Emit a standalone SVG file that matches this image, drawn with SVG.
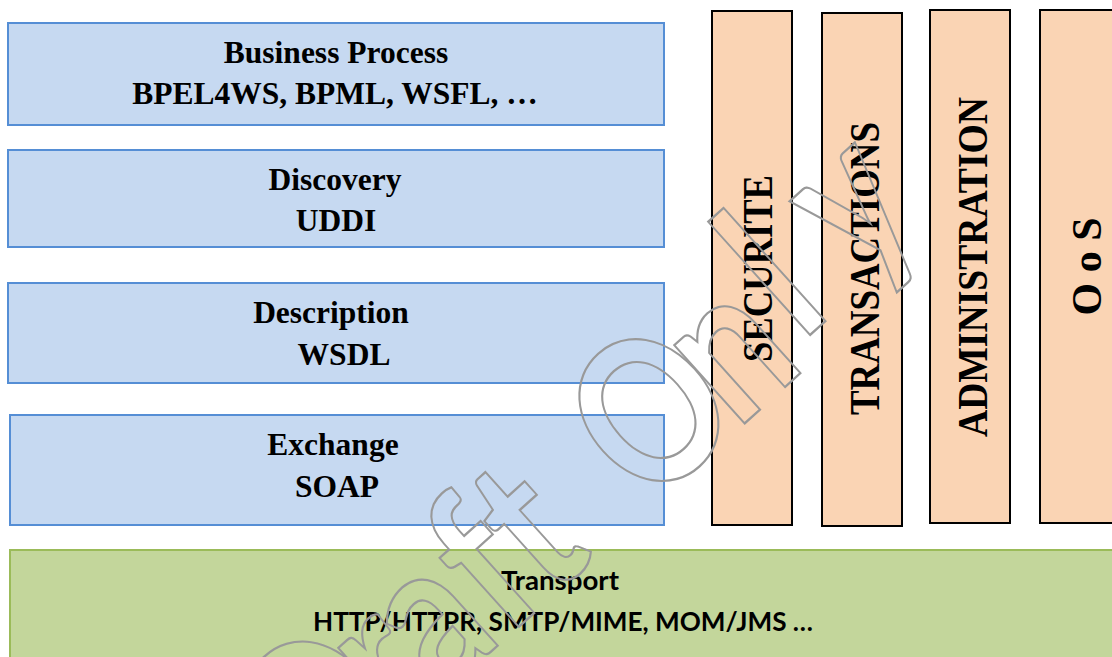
<svg xmlns="http://www.w3.org/2000/svg" width="1112" height="657" viewBox="0 0 1112 657">
  <style>
    .layer { fill: #C6D9F1; stroke: #558ED5; stroke-width: 2; }
    .side { fill: #FAD4B4; stroke: #000000; stroke-width: 2; }
    .transport { fill: #C3D69B; stroke: #9BBB59; stroke-width: 2; }
    .serif { font-family: "Liberation Serif", "Times New Roman", serif; font-weight: bold; fill: #000000; }
    .lbl { font-size: 31.5px; text-anchor: middle; }
    .vlbl { font-size: 42px; text-anchor: middle; }
    .sans { font-family: Lato, "Open Sans", "Liberation Sans", sans-serif; font-weight: bold; font-size: 27px; text-anchor: middle; fill: #000000; }
    .mark { font-family: Lato, "Open Sans", sans-serif; font-weight: bold; font-size: 205px; fill: none; stroke: #999999; stroke-width: 2.3; text-anchor: middle; }
  </style>

  <rect width="1112" height="657" fill="#ffffff"/>

  <!-- protocol stack layers -->
  <g id="business-process">
    <rect class="layer" x="8" y="23" width="656" height="102"/>
    <text class="serif lbl" x="336" y="63">Business Process</text>
    <text class="serif lbl" x="335" y="104">BPEL4WS, BPML, WSFL, …</text>
  </g>
  <g id="discovery">
    <rect class="layer" x="8" y="150" width="656" height="97"/>
    <text class="serif lbl" x="335" y="190">Discovery</text>
    <text class="serif lbl" x="336" y="231">UDDI</text>
  </g>
  <g id="description">
    <rect class="layer" x="8" y="283" width="656" height="100"/>
    <text class="serif lbl" x="331" y="323">Description</text>
    <text class="serif lbl" x="344" y="365">WSDL</text>
  </g>
  <g id="exchange">
    <rect class="layer" x="10" y="415" width="654" height="110"/>
    <text class="serif lbl" x="333" y="455">Exchange</text>
    <text class="serif lbl" x="337" y="497">SOAP</text>
  </g>
  <g id="transport">
    <rect class="transport" x="10" y="550" width="1112" height="120"/>
    <text class="sans" x="560" y="590" textLength="118" lengthAdjust="spacingAndGlyphs">Transport</text>
    <text class="sans" x="563" y="631" textLength="500" lengthAdjust="spacingAndGlyphs">HTTP/HTTPR, SMTP/MIME, MOM/JMS …</text>
  </g>

  <!-- cross-cutting concerns -->
  <g id="securite">
    <rect class="side" x="712" y="11" width="80" height="514"/>
    <text class="serif vlbl" transform="translate(758,268.5) rotate(-90)" x="0" y="14" textLength="187" lengthAdjust="spacingAndGlyphs">SECURITE</text>
  </g>
  <g id="transactions">
    <rect class="side" x="822" y="13" width="80" height="513"/>
    <text class="serif vlbl" transform="translate(865,268.5) rotate(-90)" x="0" y="14" textLength="293" lengthAdjust="spacingAndGlyphs">TRANSACTIONS</text>
  </g>
  <g id="administration">
    <rect class="side" x="930" y="10" width="80" height="513"/>
    <text class="serif vlbl" transform="translate(973,267) rotate(-90)" x="0" y="14" textLength="340" lengthAdjust="spacingAndGlyphs">ADMINISTRATION</text>
  </g>
  <g id="qos">
    <rect class="side" x="1040" y="10" width="90" height="513"/>
    <text class="serif vlbl" transform="translate(1087,266.5) rotate(-90)" x="0" y="14">O o S</text>
  </g>

  <g id="connectors"/>

  <!-- outlined diagonal watermark -->
  <g id="watermark" transform="translate(649,410) rotate(-42) scale(0.82,1)">
    <text class="mark" y="74" vector-effect="non-scaling-stroke"><tspan x="-545">D</tspan><tspan x="-450">r</tspan><tspan x="-370">a</tspan><tspan x="-278">f</tspan><tspan x="-205">t</tspan><tspan x="0">O</tspan><tspan x="121">n</tspan><tspan x="220" y="52">l</tspan><tspan x="351" y="44">y</tspan></text>
  </g>
</svg>
